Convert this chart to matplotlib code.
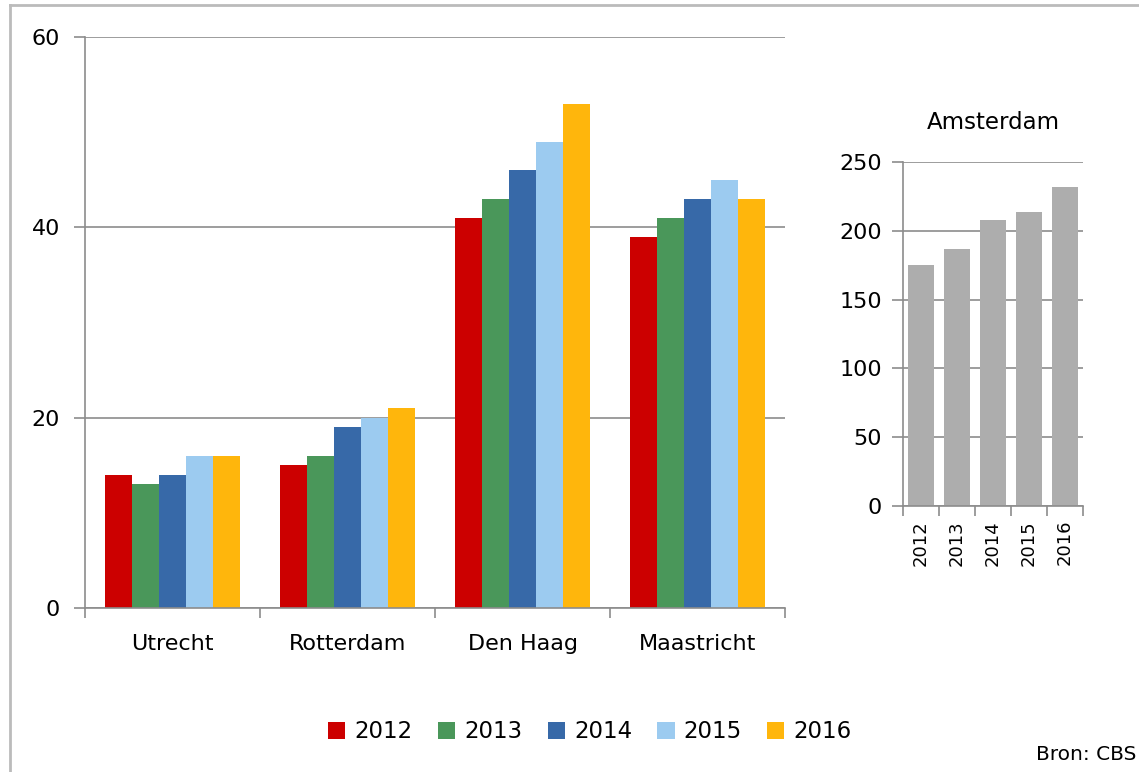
import matplotlib.pyplot as plt
import numpy as np
from matplotlib.lines import Line2D

# data
cities = ['Utrecht', 'Rotterdam', 'Den Haag', 'Maastricht']
years = ['2012', '2013', '2014', '2015', '2016']
values = {
    '2012': [14, 15, 41, 39],
    '2013': [13, 16, 43, 41],
    '2014': [14, 19, 46, 43],
    '2015': [16, 20, 49, 45],
    '2016': [16, 21, 53, 43],
}
amsterdam = [175, 187, 208, 214, 232]

colors = ['#cc0000', '#4a975a', '#3769a8', '#9ccbf0', '#ffb60c']
axis_grey = '#8c8c8c'

plt.rcParams['font.family'] = ['DejaVu Sans']
plt.rcParams['font.size'] = 16

fig = plt.figure(figsize=(11.39, 7.72), dpi=100)

# outer frame (top and left edge)
fig.add_artist(Line2D([10 / 1139, 10 / 1139], [0, 1 - 5 / 772], color='#bbbbbb', lw=2))
fig.add_artist(Line2D([10 / 1139, 1], [1 - 5 / 772, 1 - 5 / 772], color='#bbbbbb', lw=2))

# main chart
ax = fig.add_axes([85 / 1139, 1 - 608 / 772, 700 / 1139, 571 / 772])
x = np.arange(len(cities))
bw = 0.771 / len(years)
for i, yr in enumerate(years):
    ax.bar(x - 0.771 / 2 + bw * (i + 0.5), values[yr], width=bw, color=colors[i],
           label=yr, zorder=2)

ax.set_xlim(-0.5, len(cities) - 0.5)
ax.set_ylim(0, 60)
ax.set_yticks([0, 20, 40, 60])
ax.yaxis.grid(True, color=axis_grey, lw=1.2, zorder=1)
ax.set_xticks(np.arange(-0.5, len(cities), 1))
ax.set_xticklabels([])
ax.set_xticks(x, minor=True)
ax.set_xticklabels(cities, minor=True)
ax.tick_params(axis='x', which='major', direction='out', length=7, color=axis_grey, width=1.2)
ax.tick_params(axis='x', which='minor', length=0, pad=19)
ax.tick_params(axis='y', direction='out', length=8, color=axis_grey, width=1.2, pad=10)
for s in ['top', 'right']:
    ax.spines[s].set_visible(False)
for s in ['left', 'bottom']:
    ax.spines[s].set_color(axis_grey)
    ax.spines[s].set_linewidth(1.2)

# Amsterdam inset
ax2 = fig.add_axes([903 / 1139, 1 - 506 / 772, 180 / 1139, 344 / 772])
xa = np.arange(len(years))
ax2.bar(xa, amsterdam, width=0.72, color='#adadad', zorder=2)
ax2.set_xlim(-0.5, len(years) - 0.5)
ax2.set_ylim(0, 250)
ax2.set_yticks(np.arange(0, 251, 50))
ax2.yaxis.grid(True, color=axis_grey, lw=1.2, zorder=1)
ax2.set_xticks(np.arange(-0.5, len(years), 1))
ax2.set_xticklabels([])
ax2.set_xticks(xa, minor=True)
ax2.set_xticklabels(years, minor=True, rotation=90, fontsize=13)
ax2.tick_params(axis='x', which='major', direction='out', length=7, color=axis_grey, width=1.2)
ax2.tick_params(axis='x', which='minor', length=0, pad=10)
ax2.tick_params(axis='y', direction='out', length=8, color=axis_grey, width=1.2, pad=7)
for s in ['top', 'right']:
    ax2.spines[s].set_visible(False)
for s in ['left', 'bottom']:
    ax2.spines[s].set_color(axis_grey)
    ax2.spines[s].set_linewidth(1.2)
ax2.set_title('Amsterdam', fontsize=16.5, pad=24)

# legend
handles, labels = ax.get_legend_handles_labels()
fig.legend(handles, labels, loc='center', bbox_to_anchor=(590 / 1139, 1 - 732 / 772),
           ncol=5, frameon=False, handlelength=0.75, handleheight=0.75,
           handletextpad=0.4, columnspacing=1.1, fontsize=16.5)

fig.text(1136 / 1139, 1 - 755 / 772, 'Bron: CBS', ha='right', va='center', fontsize=14.5)

fig.savefig('out.png', dpi=100)
